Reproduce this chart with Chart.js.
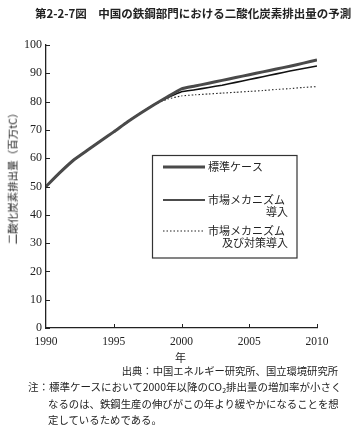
<!DOCTYPE html>
<html><head><meta charset="utf-8">
<script src="https://cdn.jsdelivr.net/npm/chart.js@4/dist/chart.umd.min.js"></script>
<style>
html,body{margin:0;padding:0;background:#fff;}
#wrap{position:relative;width:353px;height:432px;overflow:hidden;}
canvas{position:absolute;left:0;top:0;}
.t{position:absolute;white-space:nowrap;font-family:"Noto Sans CJK JP","Noto Sans",sans-serif;color:#222;line-height:1;}
</style></head><body>
<div id="wrap">
<canvas id="c" width="353" height="432"></canvas>
<div class="t" id="title" style="left:35px;top:8px;font-size:11.5px;font-weight:bold;">第2-2-7図　中国の鉄鋼部門における二酸化炭素排出量の予測</div>
<div class="t" id="ytitle" style="left:13px;top:176px;font-size:10.5px;transform:translate(-50%,-50%) rotate(-90deg);">二酸化炭素排出量（百万tC）</div>
<div class="t" style="left:175px;top:352px;font-size:11px;">年</div>
<div class="t" style="right:15px;top:366px;font-size:10.3px;">出典：中国エネルギー研究所、国立環境研究所</div>
<div class="t" style="left:28px;top:382px;font-size:10.5px;">注：標準ケースにおいて2000年以降のCO<sub style="font-size:7px;vertical-align:-2px;">2</sub>排出量の増加率が小さく</div>
<div class="t" style="left:48px;top:399px;font-size:10.4px;">なるのは、鉄鋼生産の伸びがこの年より緩やかになることを想</div>
<div class="t" style="left:48px;top:415px;font-size:10.4px;">定しているためである。</div>
</div>
<script>
const years = [1990,1991,1992,1993,1994,1995,1996,1997,1998,1999,2000,2001,2002,2003,2004,2005,2006,2007,2008,2009,2010];
const standardCase = [50,54.8,59.2,62.6,66,69.3,72.8,76,79,81.8,84.5,85.5,86.5,87.5,88.5,89.5,90.5,91.5,92.5,93.6,94.7];
const marketCase   = [50,54.8,59.2,62.6,66,69.3,72.8,76,79,81.4,83.5,84.2,85.0,85.8,86.8,87.8,88.8,89.8,90.8,91.7,92.6];
const measureCase  = [50,54.8,59.2,62.6,66,69.3,72.8,76,79,80.9,82.0,82.4,82.7,83.0,83.3,83.6,83.9,84.3,84.6,85.0,85.3];
const xTicks = [1990,1995,2000,2005,2010];
const yTicks = [0,10,20,30,40,50,60,70,80,90,100];
const seriesNames = ['標準ケース',['市場メカニズム','導入'],['市場メカニズム','及び対策導入']];

const toPts = arr => arr.map((v,i)=>({x:years[i],y:v}));

const innerTicks = {
  id:'innerTicks',
  afterDraw(chart){
    const ctx = chart.ctx, xs = chart.scales.x, ys = chart.scales.y, a = chart.chartArea;
    ctx.save();
    ctx.strokeStyle = '#222'; ctx.lineWidth = 1;
    ys.ticks.forEach(t=>{ const y = Math.round(ys.getPixelForValue(t.value))+0.5;
      ctx.beginPath(); ctx.moveTo(a.left, y); ctx.lineTo(a.left+4, y); ctx.stroke(); });
    xs.ticks.forEach(t=>{ if (t.value===xs.min) return; const x = Math.round(xs.getPixelForValue(t.value))+0.5;
      ctx.beginPath(); ctx.moveTo(x, a.bottom); ctx.lineTo(x, a.bottom-4); ctx.stroke(); });
    ctx.restore();
  }
};

const boxLegend = {
  id:'boxLegend',
  afterDraw(chart){
    const ctx = chart.ctx;
    ctx.save();
    ctx.strokeStyle = '#333'; ctx.lineWidth = 1.2;
    ctx.strokeRect(152.5, 155.5, 144.5, 102.5);
    const ds = chart.data.datasets;
    const rows = [{y:167},{y:200},{y:231}];
    ctx.font = '11px "Noto Sans CJK JP", sans-serif';
    ctx.fillStyle = '#222'; ctx.textBaseline = 'middle';
    rows.forEach((r,i)=>{
      const d = ds[i];
      ctx.strokeStyle = d.borderColor; ctx.lineWidth = d.borderWidth;
      ctx.setLineDash(d.borderDash || []);
      ctx.beginPath(); ctx.moveTo(163, r.y); ctx.lineTo(205, r.y); ctx.stroke();
      ctx.setLineDash([]);
      const name = seriesNames[i];
      if (Array.isArray(name)) {
        ctx.textAlign = 'left'; ctx.fillText(name[0], 208, r.y);
        ctx.textAlign = 'right'; ctx.fillText(name[1], 288, r.y + 11.5);
      } else {
        ctx.textAlign = 'left'; ctx.fillText(name, 208, r.y);
      }
    });
    ctx.restore();
  }
};

new Chart(document.getElementById('c'), {
  type:'line',
  data:{datasets:[
    {label:'標準ケース', data:toPts(standardCase), borderColor:'#4a4a4a', borderWidth:3, pointRadius:0, tension:0.15},
    {label:'市場メカニズム導入', data:toPts(marketCase), borderColor:'#111', borderWidth:1.6, pointRadius:0, tension:0.15},
    {label:'市場メカニズム及び対策導入', data:toPts(measureCase), borderColor:'#222', borderWidth:1.1, borderDash:[1.5,2], pointRadius:0, tension:0.15}
  ]},
  options:{
    responsive:false, animation:false, events:[],
    layout:{padding:{left:0,right:36,top:45,bottom:0}},
    plugins:{legend:{display:false}, tooltip:{enabled:false}, title:{display:false}},
    scales:{
      x:{type:'linear', min:1990, max:2010,
        afterBuildTicks(s){ s.ticks = xTicks.map(v=>({value:v})); },
        afterFit(s){ s.height = 104; },
        grid:{display:true, drawOnChartArea:false, drawTicks:false},
        border:{display:true, color:'#222', width:1.3},
        ticks:{padding:7, color:'#222', font:{family:'"Liberation Serif", serif', size:11.5}, callback:v=>String(v), maxRotation:0}
      },
      y:{min:0, max:100,
        afterBuildTicks(s){ s.ticks = yTicks.map(v=>({value:v})); },
        afterFit(s){ s.width = 46; },
        grid:{display:true, drawOnChartArea:false, drawTicks:false},
        border:{display:true, color:'#222', width:1.3},
        ticks:{padding:4, color:'#222', font:{family:'"Liberation Serif", serif', size:12}, callback:v=>String(v)}
      }
    }
  },
  plugins:[innerTicks, boxLegend]
});
</script>
</body></html>
